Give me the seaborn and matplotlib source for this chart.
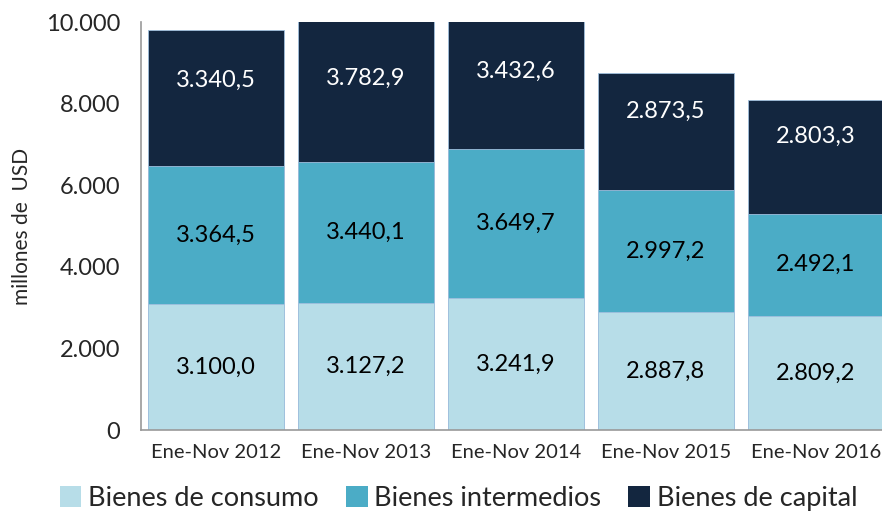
import numpy as np
import pandas as pd
import matplotlib
matplotlib.use('Agg')
import matplotlib.pyplot as plt
import seaborn as sns
from matplotlib.patches import Patch
from matplotlib.ticker import FuncFormatter, FixedLocator

# Datos (millones de USD)
periodos = ['Ene-Nov 2012', 'Ene-Nov 2013', 'Ene-Nov 2014', 'Ene-Nov 2015', 'Ene-Nov 2016']
consumo = [3100.0, 3127.2, 3241.9, 2887.8, 2809.2]
intermedios = [3364.5, 3440.1, 3649.7, 2997.2, 2492.1]
capital = [3340.5, 3782.9, 3432.6, 2873.5, 2803.3]
series = ['Bienes de consumo', 'Bienes intermedios', 'Bienes de capital']
colores = ['#B7DDE8', '#4BACC6', '#13263F']

sns.set_style('white')
plt.rcParams['font.family'] = ['Lato', 'DejaVu Sans']

df = pd.DataFrame({'periodo': periodos,
                   series[0]: consumo,
                   series[1]: intermedios,
                   series[2]: capital})
acum = df[series].cumsum(axis=1)

fig = plt.figure(figsize=(8.82, 5.17), dpi=100)
ax = fig.add_axes([0.16, 0.168, 0.85, 0.789])

# barras apiladas: se dibuja el total acumulado de mayor a menor
for s, c in reversed(list(zip(series, colores))):
    sns.barplot(x=df['periodo'], y=acum[s], color=c, width=0.91,
                edgecolor='#9FBFDD', linewidth=0.6, ax=ax, saturation=1)

ymax = 10000
ax.set_ylim(0, ymax)
ax.set_xlim(-0.5, len(periodos) - 0.5)

# etiquetas de valores
for i in range(len(periodos)):
    base = 0
    for s, txtcol in zip(series, ['black', 'black', 'white']):
        v = df[s][i]
        top = min(base + v, ymax)
        yc = (base + top) / 2
        if s == series[2]:
            yc = min(base + v / 2 + 500, (base + ymax) / 2 + 350)
        ax.text(i, yc, f'{v:,.1f}'.replace(',', 'X').replace('.', ',').replace('X', '.'),
                ha='center', va='center', fontsize=17, color=txtcol)
        base += v

ax.yaxis.set_major_formatter(FuncFormatter(lambda v, p: f'{v:,.0f}'.replace(',', '.')))
ax.set_yticks(np.arange(0, 10001, 2000))
ax.tick_params(axis='y', labelsize=17, length=7, width=1, color='#999999', direction='out', pad=8)
ax.tick_params(axis='x', which='major', labelsize=14.5, length=0, pad=10)
ax.xaxis.set_minor_locator(FixedLocator(np.arange(-0.5, len(periodos), 1)))
ax.tick_params(axis='x', which='minor', length=7, width=1, color='#999999', direction='out')
ax.set_xlabel('')
ax.set_ylabel('millones de  USD', fontsize=15, labelpad=10)

for side in ['top', 'right']:
    ax.spines[side].set_visible(False)
for side in ['left', 'bottom']:
    ax.spines[side].set_color('#999999')
    ax.spines[side].set_linewidth(1.2)

handles = [Patch(facecolor=c, edgecolor='none') for c in colores]
fig.legend(handles, series, loc='lower center', bbox_to_anchor=(0.52, -0.035), ncol=3,
           frameon=False, fontsize=19.5, handlelength=0.8, handleheight=0.8,
           handletextpad=0.25, columnspacing=1.0)

fig.savefig('out.png', dpi=100)
